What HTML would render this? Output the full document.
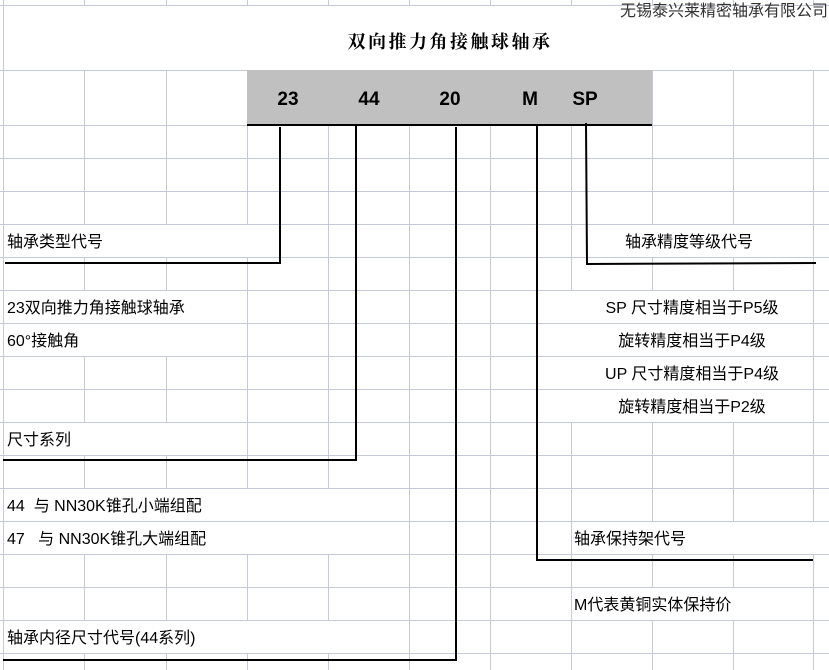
<!DOCTYPE html>
<html><head><meta charset="utf-8"><style>
html,body{margin:0;padding:0;background:#fff;}
svg{display:block;}
.t{font-family:"Liberation Sans","Noto Sans CJK SC",sans-serif;font-size:16px;fill:#000;white-space:pre;}
.b{font-family:"Liberation Sans","Noto Sans CJK SC",sans-serif;font-size:19px;font-weight:bold;fill:#000;}
</style></head><body>
<svg width="829" height="670" xmlns="http://www.w3.org/2000/svg" xml:space="preserve">
<g stroke="#c6cad8" stroke-width="1">
<line x1="3.5" y1="0" x2="3.5" y2="670"/><line x1="84.5" y1="0" x2="84.5" y2="670"/><line x1="166.5" y1="0" x2="166.5" y2="670"/><line x1="247.5" y1="0" x2="247.5" y2="670"/><line x1="328.5" y1="0" x2="328.5" y2="670"/><line x1="409.5" y1="0" x2="409.5" y2="670"/><line x1="490.5" y1="0" x2="490.5" y2="670"/><line x1="571.5" y1="0" x2="571.5" y2="670"/><line x1="652.5" y1="0" x2="652.5" y2="670"/><line x1="733.5" y1="0" x2="733.5" y2="670"/><line x1="813.5" y1="0" x2="813.5" y2="670"/>
<line x1="0" y1="5.5" x2="829" y2="5.5"/><line x1="0" y1="70.5" x2="829" y2="70.5"/><line x1="0" y1="125.5" x2="829" y2="125.5"/>
<line x1="0" y1="158.5" x2="829" y2="158.5"/><line x1="0" y1="191.5" x2="829" y2="191.5"/><line x1="0" y1="224.5" x2="829" y2="224.5"/><line x1="0" y1="257.5" x2="829" y2="257.5"/><line x1="0" y1="290.5" x2="829" y2="290.5"/><line x1="0" y1="323.5" x2="829" y2="323.5"/><line x1="0" y1="356.5" x2="829" y2="356.5"/><line x1="0" y1="389.5" x2="829" y2="389.5"/><line x1="0" y1="422.5" x2="829" y2="422.5"/><line x1="0" y1="455.5" x2="829" y2="455.5"/><line x1="0" y1="488.5" x2="829" y2="488.5"/><line x1="0" y1="521.5" x2="829" y2="521.5"/><line x1="0" y1="554.5" x2="829" y2="554.5"/><line x1="0" y1="587.5" x2="829" y2="587.5"/><line x1="0" y1="620.5" x2="829" y2="620.5"/><line x1="0" y1="653.5" x2="829" y2="653.5"/>
</g>
<g fill="#fff">
<rect x="4" y="6" width="825" height="64"/>
<rect x="4" y="225" width="324" height="32"/>
<rect x="572" y="225" width="241" height="32"/>
<rect x="4" y="291" width="243" height="32"/><rect x="4" y="324" width="243" height="32"/>
<rect x="4" y="423" width="243" height="32"/>
<rect x="4" y="489" width="405" height="32"/><rect x="4" y="522" width="405" height="32"/>
<rect x="4" y="621" width="405" height="32"/>
<rect x="491" y="291" width="322" height="32"/><rect x="491" y="324" width="322" height="32"/><rect x="491" y="357" width="322" height="32"/><rect x="491" y="390" width="322" height="32"/>
<rect x="572" y="522" width="257" height="32"/>
<rect x="572" y="588" width="241" height="32"/>
</g>
<rect x="247" y="70" width="405" height="55" fill="#c0c0c0"/>
<g stroke="#000" stroke-width="2" fill="none">
<line x1="247" y1="125" x2="652" y2="125"/>
<polyline points="280,127 280,263 5,263"/>
<polyline points="356,125 356,460 3,460"/>
<polyline points="456,127 456,660 3,660"/>
<polyline points="537,125 537,560 813,560"/>
<polyline points="586,123 587,264 816,263"/>
</g>
<text x="828" y="16" text-anchor="end" class="t" style="fill:#333">无锡泰兴莱精密轴承有限公司</text>
<text x="450" y="48" text-anchor="middle" style="font-family:'Liberation Serif','Noto Serif CJK SC',serif;font-size:18px;font-weight:bold;letter-spacing:2.5px">双向推力角接触球轴承</text>
<text x="288" y="105" text-anchor="middle" class="b">23</text>
<text x="369" y="105" text-anchor="middle" class="b">44</text>
<text x="450" y="105" text-anchor="middle" class="b">20</text>
<text x="530" y="105" text-anchor="middle" class="b">M</text>
<text x="585" y="105" text-anchor="middle" class="b">SP</text>
<text x="7" y="247" class="t">轴承类型代号</text>
<text x="625" y="247" class="t">轴承精度等级代号</text>
<text x="7" y="313" class="t">23双向推力角接触球轴承</text>
<text x="7" y="346" class="t">60°接触角</text>
<text x="7" y="445" class="t">尺寸系列</text>
<text x="7" y="511" class="t">44  与 NN30K锥孔小端组配</text>
<text x="7" y="544" class="t">47   与 NN30K锥孔大端组配</text>
<text x="7" y="643" class="t">轴承内径尺寸代号(44系列)</text>
<text x="692" y="313" text-anchor="middle" class="t">SP 尺寸精度相当于P5级</text>
<text x="692" y="346" text-anchor="middle" class="t">旋转精度相当于P4级</text>
<text x="692" y="379" text-anchor="middle" class="t">UP 尺寸精度相当于P4级</text>
<text x="692" y="412" text-anchor="middle" class="t">旋转精度相当于P2级</text>
<text x="574" y="544" class="t">轴承保持架代号</text>
<text x="574" y="610" class="t">M代表黄铜实体保持价</text>
</svg>
</body></html>
